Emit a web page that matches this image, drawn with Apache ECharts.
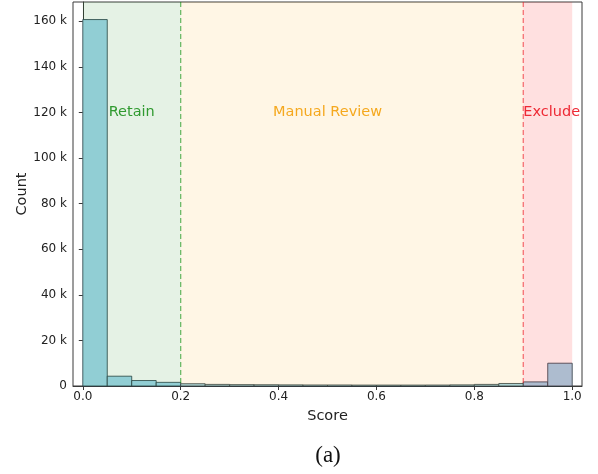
<!DOCTYPE html>
<html>
<head>
<meta charset="utf-8">
<script src="https://cdn.jsdelivr.net/npm/echarts@6/dist/echarts.min.js"></script>
<style>html,body{margin:0;padding:0;background:#fff}#c{width:598px;height:474px}</style>
</head>
<body>
<div id="c"></div>
<script>
// Histogram bins (start of each bin) and counts
const binStarts = [0.00,0.05,0.10,0.15,0.20,0.25,0.30,0.35,0.40,0.45,0.50,0.55,0.60,0.65,0.70,0.75,0.80,0.85,0.90,0.95];
const binWidth = 0.05;
const counts = [160800,4300,2400,1600,1000,700,600,550,500,450,450,400,400,400,420,500,700,1100,1800,10000];

// Decision regions
const regionNames = ['Retain','Manual Review','Exclude'];
const regionStart = [0.0,0.2,0.9];
const regionEnd = [0.2,0.9,1.0];
const regionLabelX = [0.1,0.5,0.958];
const regionLabelY = 120000;
const thresholds = [0.2,0.9];

// Tick labels
const xTicks = [0.0,0.2,0.4,0.6,0.8,1.0];

const regionFill = ['rgba(0,128,0,0.1)','rgba(255,165,0,0.1)','rgba(255,0,0,0.12)'];
const regionText = ['#2f9a2f','#f5a81e','#ee2a35'];
const thresholdColor = ['rgba(0,140,0,0.55)','rgba(240,30,40,0.6)'];

const chart = echarts.init(document.getElementById('c'), null, {renderer:'canvas'});
const font = 'DejaVu Sans';
chart.setOption({
  animation:false,
  backgroundColor:'#fff',
  grid:{left:73,right:16,top:2,bottom:88,show:true,borderColor:'#3a3a3a',borderWidth:1,backgroundColor:'transparent'},
  graphic:[{type:'text',x:328,y:456,style:{text:'(a)',fontFamily:'Liberation Serif',fontSize:23,fill:'#111',align:'center',verticalAlign:'middle'}}],
  xAxis:{type:'value',min:-0.02,max:1.02,
    name:'Score',nameLocation:'middle',nameGap:23,nameMoveOverlap:false,
    nameTextStyle:{fontFamily:font,fontSize:14.5,color:'#222'},
    axisLine:{show:true,onZero:false,lineStyle:{color:'#3a3a3a'}},
    axisTick:{show:true,length:4,customValues:xTicks,lineStyle:{color:'#3a3a3a'}},
    axisLabel:{customValues:xTicks,fontFamily:font,fontSize:12,color:'#222',margin:5,formatter:v=>v.toFixed(1)},
    splitLine:{show:false}},
  yAxis:{type:'value',min:0,max:168500,interval:20000,
    name:'Count',nameLocation:'middle',nameGap:43,nameRotate:90,nameMoveOverlap:false,
    nameTextStyle:{fontFamily:font,fontSize:14.5,color:'#222'},
    axisLine:{show:true,lineStyle:{color:'#3a3a3a'}},
    axisTick:{show:true,length:4,lineStyle:{color:'#3a3a3a'}},
    axisLabel:{fontFamily:font,fontSize:12,color:'#222',margin:6,showMaxLabel:false,
      formatter:v=>v===0?'0':(v/1000)+' k'},
    splitLine:{show:false}},
  series:[
    {type:'custom',z:2,
     data:binStarts.map((s,i)=>[s,s+binWidth,counts[i]]),
     encode:{x:[0,1],y:2},
     renderItem:function(params,api){
       const p0=api.coord([api.value(0),0]);
       const p1=api.coord([api.value(1),api.value(2)]);
       return {type:'rect',shape:{x:p0[0],y:p1[1],width:p1[0]-p0[0],height:p0[1]-p1[1]},
         style:{fill:'#a2d7ec',stroke:'rgba(40,60,70,0.8)',lineWidth:1}};
     }},
    {type:'custom',z:3,silent:true,
     data:regionStart.map((s,i)=>[s,regionEnd[i],i]),
     encode:{x:[0,1]},
     renderItem:function(params,api){
       const cs=params.coordSys;
       const i=api.value(2);
       const a=api.coord([api.value(0),0]);
       const b=api.coord([api.value(1),0]);
       const t=api.coord([regionLabelX[i],regionLabelY]);
       return {type:'group',children:[
         {type:'rect',shape:{x:a[0],y:cs.y,width:b[0]-a[0],height:cs.height},style:{fill:regionFill[i]}},
         {type:'text',x:t[0],y:t[1],style:{text:regionNames[i],fill:regionText[i],fontFamily:font,fontSize:14.5,align:'center',verticalAlign:'middle'}}
       ]};
     }},
    {type:'custom',z:4,silent:true,
     data:thresholds.map((v,i)=>[v,i]),
     encode:{x:0},
     renderItem:function(params,api){
       const cs=params.coordSys;
       const p=api.coord([api.value(0),0]);
       return {type:'line',shape:{x1:p[0],y1:cs.y,x2:p[0],y2:cs.y+cs.height},
         style:{stroke:thresholdColor[api.value(1)],lineWidth:1.3,lineDash:[5,3]}};
     }}
  ]
});
</script>
</body>
</html>
